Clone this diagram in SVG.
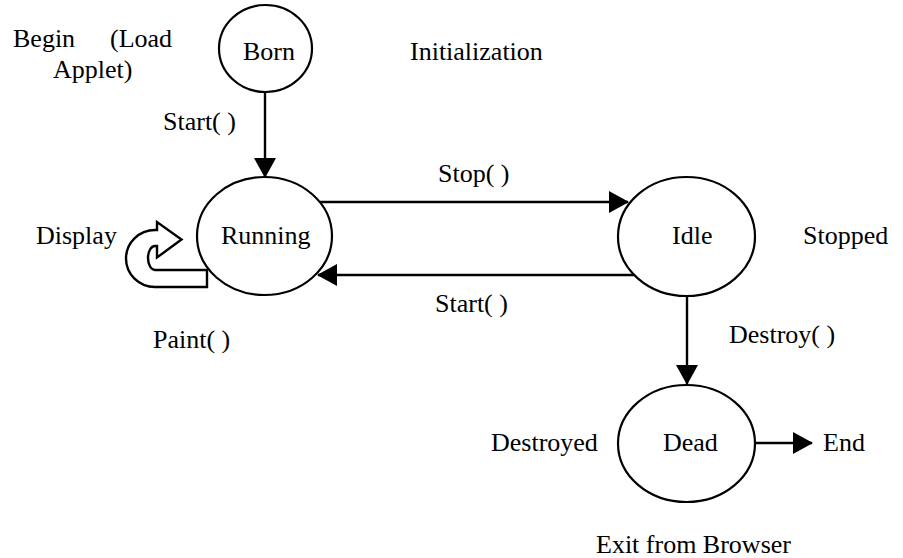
<svg xmlns="http://www.w3.org/2000/svg" width="903" height="558" viewBox="0 0 903 558" font-family="'Liberation Serif', 'DejaVu Serif', serif">
  <style>
    text { font-family: 'Liberation Serif', 'DejaVu Serif', serif; font-size: 26px; fill: #000; }
    .state { fill: #fff; stroke: #000; stroke-width: 2.2; }
    .edge { fill: none; stroke: #000; stroke-width: 2.4; }
  </style>
  <defs>
    <marker id="arrow" markerUnits="userSpaceOnUse" markerWidth="20" markerHeight="22" refX="19" refY="11" orient="auto">
      <path d="M0,0 L20,11 L0,22 Z" fill="#000"/>
    </marker>
  </defs>

  <rect width="903" height="558" fill="#fff"/>

  <!-- transitions -->
  <g id="connectors">
    <line class="edge" x1="265" y1="92" x2="265" y2="177" marker-end="url(#arrow)"/>
    <line class="edge" x1="320" y1="202" x2="628" y2="202" marker-end="url(#arrow)"/>
    <line class="edge" x1="640" y1="275" x2="318" y2="275" marker-end="url(#arrow)"/>
    <line class="edge" x1="687" y1="296" x2="687" y2="384" marker-end="url(#arrow)"/>
    <line class="edge" x1="755" y1="443" x2="812" y2="443" marker-end="url(#arrow)"/>
    <!-- self loop on Running: U-turn block arrow -->
    <path class="edge" stroke-width="2.2" stroke-linejoin="miter"
          d="M207,270 L207,287 L155,287 A29,28.5 0 0 1 155,230 L157,230 L157,222 L181.5,239.5 L157,257.5 L157,246 L155,246 A7,12 0 0 0 155,270 Z"/>
  </g>

  <!-- states -->
  <g id="born">
    <ellipse class="state" cx="265.5" cy="48.5" rx="46.5" ry="43.5"/>
    <text x="243" y="60">Born</text>
  </g>
  <g id="running">
    <ellipse class="state" cx="264.5" cy="236" rx="67.5" ry="59"/>
    <text x="221" y="244">Running</text>
  </g>
  <g id="idle">
    <ellipse class="state" cx="686.5" cy="236.5" rx="68.5" ry="59.5"/>
    <text x="672" y="244">Idle</text>
  </g>
  <g id="dead">
    <ellipse class="state" cx="686.5" cy="443.5" rx="68.5" ry="58.5"/>
    <text x="663" y="451">Dead</text>
  </g>

  <!-- labels -->
  <g id="labels">
    <text x="13" y="47">Begin</text>
    <text x="110" y="47">(Load</text>
    <text x="53" y="78">Applet)</text>
    <text x="410" y="60">Initialization</text>
    <text x="163" y="130">Start( )</text>
    <text x="438" y="182">Stop( )</text>
    <text x="36" y="244">Display</text>
    <text x="803" y="244">Stopped</text>
    <text x="435" y="312">Start( )</text>
    <text x="153" y="348">Paint( )</text>
    <text x="729" y="343">Destroy( )</text>
    <text x="491" y="451">Destroyed</text>
    <text x="823" y="451">End</text>
    <text x="596" y="553">Exit from Browser</text>
  </g>
</svg>
